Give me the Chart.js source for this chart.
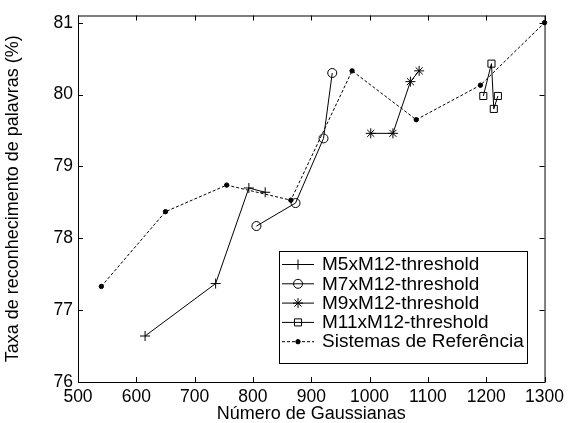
<!DOCTYPE html>
<html lang="pt">
<head>
  <meta charset="UTF-8" />
  <title>Taxa de reconhecimento x Número de Gaussianas</title>
  <script src="https://cdn.jsdelivr.net/npm/chart.js"></script>
  <style>
    body { margin: 0; background: #fff; }
    .wrap { width: 569px; height: 423px; }
  </style>
</head>
<body>
  <div class="wrap"><canvas id="chart" width="569" height="423"></canvas></div>

  <script>
    // eixos
    const xTicks = [500, 600, 700, 800, 900, 1000, 1100, 1200, 1300];
    const yTicks = [76, 77, 78, 79, 80, 81];

    // series
    const seriesNames = ['M5xM12-threshold', 'M7xM12-threshold', 'M9xM12-threshold', 'M11xM12-threshold', 'Sistemas de Referência'];
    const m5X = [615, 736, 793, 821];
    const m5Y = [76.64, 77.37, 78.70, 78.64];
    const m7X = [806, 873, 921, 936];
    const m7Y = [78.17, 78.49, 79.39, 80.30];
    const m9X = [1002, 1040, 1070, 1085];
    const m9Y = [79.46, 79.46, 80.18, 80.33];
    const m11X = [1195, 1209, 1213, 1220];
    const m11Y = [79.98, 80.43, 79.80, 79.98];
    const refX = [540, 650, 755, 865, 970, 1080, 1190, 1300];
    const refY = [77.33, 78.37, 78.74, 78.53, 80.33, 79.65, 80.13, 81.00];

    const pts = (xs, ys) => xs.map((x, i) => ({ x, y: ys[i] }));
    const FONT = 'Arial, "Liberation Sans", sans-serif';

    function serie(label, data, style, radius, dash) {
      return {
        label, data,
        showLine: true,
        borderColor: '#000',
        borderWidth: 1,
        borderDash: dash || [],
        pointStyle: style,
        pointRadius: radius,
        pointBorderColor: '#000',
        pointBackgroundColor: style === 'circle' && radius < 3 ? '#000' : 'rgba(0,0,0,0)',
        pointBorderWidth: 1,
        clip: false
      };
    }

    // caixa, marcas para dentro (estilo matlab)
    const boxTicks = {
      id: 'boxTicks',
      afterDraw(chart) {
        const { ctx, chartArea: a, scales } = chart;
        ctx.save();
        ctx.strokeStyle = '#000';
        ctx.lineWidth = 1;
        ctx.strokeRect(a.left + 0.5, a.top + 0.5, a.right - a.left, a.bottom - a.top);
        ctx.beginPath();
        xTicks.forEach(v => {
          const x = Math.round(scales.x.getPixelForValue(v)) + 0.5;
          ctx.moveTo(x, a.bottom); ctx.lineTo(x, a.bottom - 5);
          ctx.moveTo(x, a.top); ctx.lineTo(x, a.top + 5);
        });
        yTicks.forEach(v => {
          const y = Math.round(scales.y.getPixelForValue(v)) + 0.5;
          ctx.moveTo(a.left, y); ctx.lineTo(a.left + 5, y);
          ctx.moveTo(a.right, y); ctx.lineTo(a.right - 5, y);
        });
        ctx.stroke();
        ctx.restore();
      }
    };

    // legenda em caixa
    const boxLegend = {
      id: 'boxLegend',
      afterDraw(chart) {
        const { ctx } = chart;
        const left = 279, top = 251, w = 248, h = 112, row = 19.3;
        ctx.save();
        ctx.fillStyle = '#fff';
        ctx.fillRect(left, top, w, h);
        ctx.strokeStyle = '#000';
        ctx.lineWidth = 1;
        ctx.strokeRect(left + 0.5, top + 0.5, w, h);
        ctx.font = '19px ' + FONT;
        ctx.textBaseline = 'middle';
        chart.data.datasets.forEach((ds, i) => {
          const y = top + 13 + i * row;
          ctx.strokeStyle = '#000';
          ctx.setLineDash(ds.borderDash);
          ctx.beginPath();
          ctx.moveTo(left + 3, y + 0.5); ctx.lineTo(left + 35, y + 0.5);
          ctx.stroke();
          ctx.setLineDash([]);
          ctx.fillStyle = ds.pointBackgroundColor;
          Chart.helpers.drawPoint(ctx, {
            pointStyle: ds.pointStyle, radius: ds.pointRadius, rotation: 0, borderWidth: 1
          }, left + 19, y + 0.5);
          ctx.fillStyle = '#000';
          ctx.fillText(ds.label, left + 43, y + 1);
        });
        ctx.restore();
      }
    };

    new Chart(document.getElementById('chart'), {
      type: 'scatter',
      data: {
        datasets: [
          serie(seriesNames[0], pts(m5X, m5Y), 'cross', 5),
          serie(seriesNames[1], pts(m7X, m7Y), 'circle', 4.5),
          serie(seriesNames[2], pts(m9X, m9Y), 'star', 5),
          serie(seriesNames[3], pts(m11X, m11Y), 'rect', 5),
          serie(seriesNames[4], pts(refX, refY), 'circle', 2.2, [3, 2])
        ]
      },
      options: {
        responsive: false,
        animation: false,
        layout: { padding: { top: 13, right: 22, left: 0, bottom: 0 } },
        plugins: { legend: { display: false }, tooltip: { enabled: false } },
        scales: {
          x: {
            type: 'linear', min: 500, max: 1300,
            afterBuildTicks: s => { s.ticks = xTicks.map(value => ({ value })); },
            afterFit: s => { s.height = 41; },
            grid: { display: false, drawTicks: false },
            border: { display: false },
            ticks: { color: '#000', padding: 5, maxRotation: 0, callback: v => String(v), font: { family: FONT, size: 17.5 } },
            title: {
              display: true, text: 'Número de Gaussianas', color: '#000',
              padding: { top: 0, bottom: 0 }, font: { family: FONT, size: 18, lineHeight: 1 }
            }
          },
          y: {
            type: 'linear', min: 76, max: 81.1,
            afterBuildTicks: s => { s.ticks = yTicks.map(value => ({ value })); },
            afterFit: s => { s.width = 78; },
            grid: { display: false, drawTicks: false },
            border: { display: false },
            ticks: { color: '#000', padding: 5, callback: v => String(v), font: { family: FONT, size: 17.5 } },
            title: {
              display: true, text: 'Taxa de reconhecimento de palavras (%)', color: '#000',
              padding: { top: 4, bottom: 0 }, font: { family: FONT, size: 18, lineHeight: 1 }
            }
          }
        }
      },
      plugins: [boxTicks, boxLegend]
    });
  </script>
</body>
</html>
